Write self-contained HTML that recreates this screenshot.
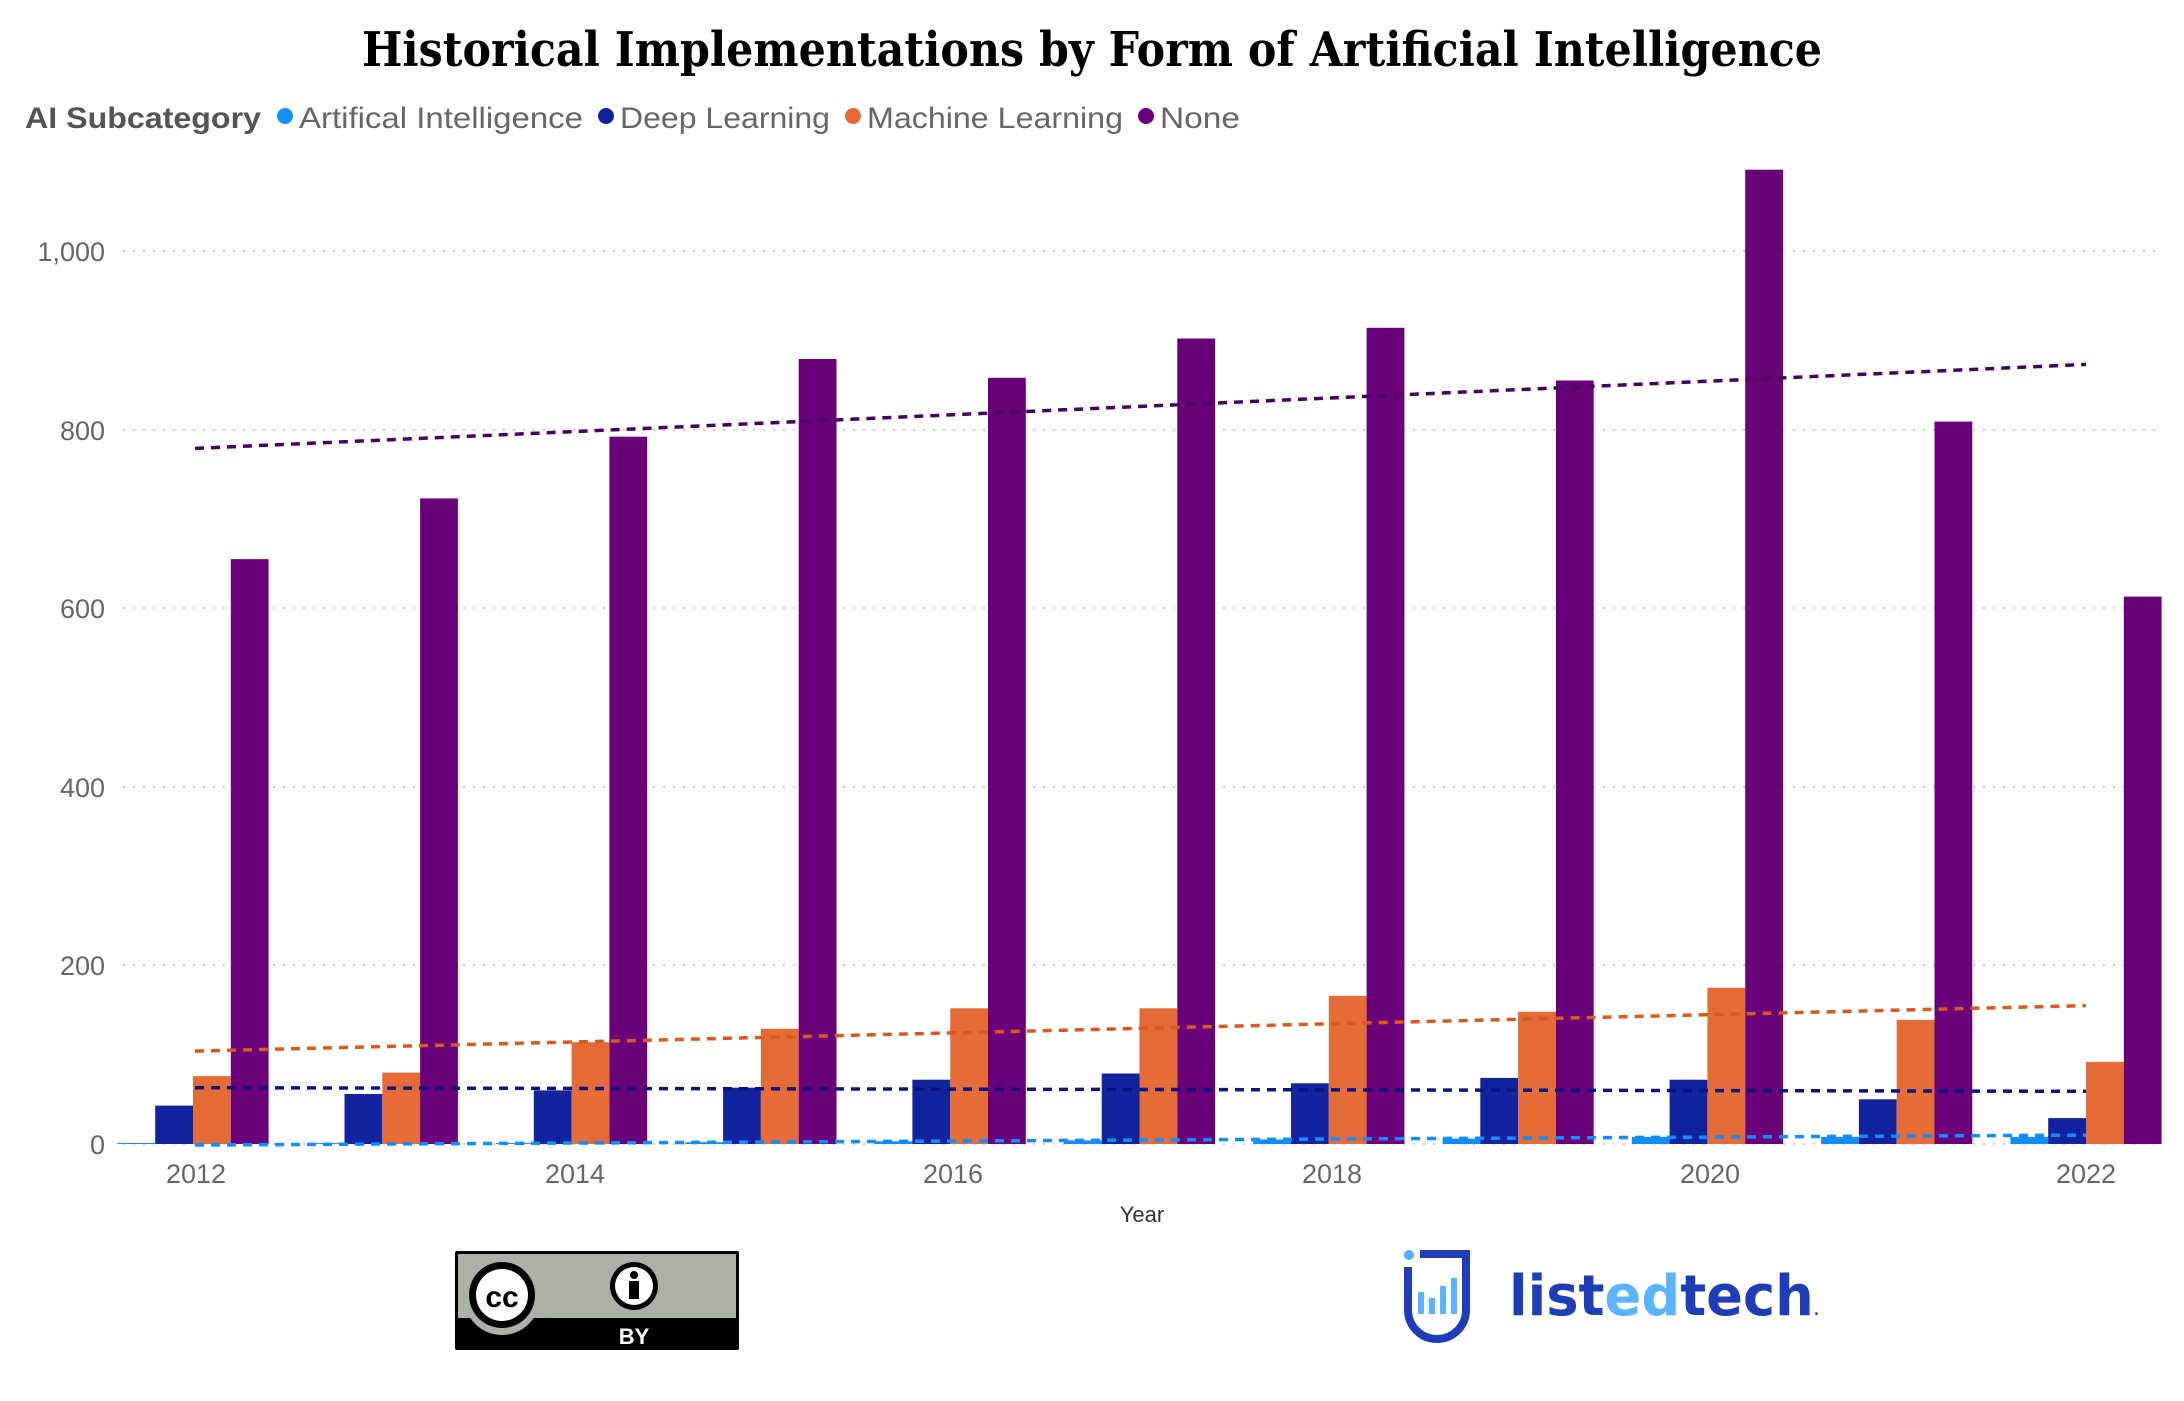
<!DOCTYPE html>
<html><head><meta charset="utf-8"><style>
html,body{margin:0;padding:0;background:#fff;}
svg{display:block;}
</style></head><body>
<svg width="2184" height="1401" viewBox="0 0 2184 1401" xmlns="http://www.w3.org/2000/svg">
<text x="1092" y="66" text-anchor="middle" font-family="'DejaVu Serif','Liberation Serif',serif" font-weight="bold" font-size="48" fill="#000" textLength="1460" lengthAdjust="spacingAndGlyphs">Historical Implementations by Form of Artificial Intelligence</text>
<g font-family="'Liberation Sans',sans-serif" font-size="30" fill="#666">
<text x="25" y="128" font-weight="bold" fill="#555" textLength="236" lengthAdjust="spacingAndGlyphs">AI Subcategory</text>
<circle cx="285" cy="116" r="8" fill="#118DFF"/><text x="299" y="128" textLength="284" lengthAdjust="spacingAndGlyphs">Artifical Intelligence</text>
<circle cx="606" cy="116" r="8" fill="#12239E"/><text x="620" y="128" textLength="210" lengthAdjust="spacingAndGlyphs">Deep Learning</text>
<circle cx="853" cy="116" r="8" fill="#E66C37"/><text x="867" y="128" textLength="256" lengthAdjust="spacingAndGlyphs">Machine Learning</text>
<circle cx="1146" cy="116" r="8" fill="#6B007B"/><text x="1160" y="128" textLength="80" lengthAdjust="spacingAndGlyphs">None</text>
</g>
<g stroke="#ccc" stroke-width="2" stroke-dasharray="2 8">
<line x1="123" y1="251" x2="2163" y2="251"/><line x1="123" y1="430" x2="2163" y2="430"/><line x1="123" y1="608" x2="2163" y2="608"/><line x1="123" y1="787" x2="2163" y2="787"/><line x1="123" y1="965" x2="2163" y2="965"/><line x1="123" y1="1144" x2="2163" y2="1144"/>
</g>
<g font-family="'Liberation Sans',sans-serif" font-size="27" fill="#666" text-anchor="end">
<text x="105" y="261">1,000</text><text x="105" y="440">800</text><text x="105" y="618">600</text><text x="105" y="797">400</text><text x="105" y="975">200</text><text x="105" y="1154">0</text>
</g>
<g>
<g transform="translate(193,0)"><rect x="-75.6" y="1143" width="37.8" height="1" fill="#118DFF"/><rect x="-37.8" y="1105.6" width="37.8" height="38.4" fill="#12239E"/><rect x="0" y="1076.1" width="37.8" height="67.9" fill="#E66C37"/><rect x="37.8" y="559.1" width="37.8" height="584.9" fill="#6B007B"/></g>
<g transform="translate(382.3,0)"><rect x="-75.6" y="1143.1" width="37.8" height="0.9" fill="#118DFF"/><rect x="-37.8" y="1094" width="37.8" height="50" fill="#12239E"/><rect x="0" y="1072.6" width="37.8" height="71.4" fill="#E66C37"/><rect x="37.8" y="498.4" width="37.8" height="645.6" fill="#6B007B"/></g>
<g transform="translate(571.6,0)"><rect x="-75.6" y="1143.1" width="37.8" height="0.9" fill="#118DFF"/><rect x="-37.8" y="1090.4" width="37.8" height="53.6" fill="#12239E"/><rect x="0" y="1042.2" width="37.8" height="101.8" fill="#E66C37"/><rect x="37.8" y="436.7" width="37.8" height="707.3" fill="#6B007B"/></g>
<g transform="translate(760.9,0)"><rect x="-75.6" y="1142.2" width="37.8" height="1.8" fill="#118DFF"/><rect x="-37.8" y="1087.7" width="37.8" height="56.3" fill="#12239E"/><rect x="0" y="1028.8" width="37.8" height="115.2" fill="#E66C37"/><rect x="37.8" y="359" width="37.8" height="785" fill="#6B007B"/></g>
<g transform="translate(950.2,0)"><rect x="-75.6" y="1141.3" width="37.8" height="2.7" fill="#118DFF"/><rect x="-37.8" y="1079.7" width="37.8" height="64.3" fill="#12239E"/><rect x="0" y="1008.3" width="37.8" height="135.7" fill="#E66C37"/><rect x="37.8" y="377.8" width="37.8" height="766.2" fill="#6B007B"/></g>
<g transform="translate(1139.5,0)"><rect x="-75.6" y="1140.4" width="37.8" height="3.6" fill="#118DFF"/><rect x="-37.8" y="1073.5" width="37.8" height="70.5" fill="#12239E"/><rect x="0" y="1008.3" width="37.8" height="135.7" fill="#E66C37"/><rect x="37.8" y="338.5" width="37.8" height="805.5" fill="#6B007B"/></g>
<g transform="translate(1328.8,0)"><rect x="-75.6" y="1139.5" width="37.8" height="4.5" fill="#118DFF"/><rect x="-37.8" y="1083.3" width="37.8" height="60.7" fill="#12239E"/><rect x="0" y="995.8" width="37.8" height="148.2" fill="#E66C37"/><rect x="37.8" y="327.8" width="37.8" height="816.2" fill="#6B007B"/></g>
<g transform="translate(1518.1,0)"><rect x="-75.6" y="1138.6" width="37.8" height="5.4" fill="#118DFF"/><rect x="-37.8" y="1077.9" width="37.8" height="66.1" fill="#12239E"/><rect x="0" y="1011.8" width="37.8" height="132.2" fill="#E66C37"/><rect x="37.8" y="380.5" width="37.8" height="763.5" fill="#6B007B"/></g>
<g transform="translate(1707.4,0)"><rect x="-75.6" y="1136.9" width="37.8" height="7.1" fill="#118DFF"/><rect x="-37.8" y="1079.7" width="37.8" height="64.3" fill="#12239E"/><rect x="0" y="987.7" width="37.8" height="156.3" fill="#E66C37"/><rect x="37.8" y="169.7" width="37.8" height="974.3" fill="#6B007B"/></g>
<g transform="translate(1896.7,0)"><rect x="-75.6" y="1136.9" width="37.8" height="7.1" fill="#118DFF"/><rect x="-37.8" y="1099.3" width="37.8" height="44.7" fill="#12239E"/><rect x="0" y="1019.9" width="37.8" height="124.1" fill="#E66C37"/><rect x="37.8" y="421.6" width="37.8" height="722.4" fill="#6B007B"/></g>
<g transform="translate(2086,0)"><rect x="-75.6" y="1136.9" width="37.8" height="7.1" fill="#118DFF"/><rect x="-37.8" y="1118.1" width="37.8" height="25.9" fill="#12239E"/><rect x="0" y="1061.8" width="37.8" height="82.2" fill="#E66C37"/><rect x="37.8" y="596.6" width="37.8" height="547.4" fill="#6B007B"/></g>
</g>
<g stroke-width="3.5" stroke-dasharray="9 7" fill="none">
<line x1="195" y1="448.4" x2="2086" y2="364.4" stroke="#4a0060"/>
<line x1="195" y1="1051.1" x2="2086" y2="1005.6" stroke="#d95a1c"/>
<line x1="195" y1="1087.7" x2="2086" y2="1091.3" stroke="#0a1580"/>
<line x1="195" y1="1145" x2="2086" y2="1135.1" stroke="#118DFF"/>
</g>
<g font-family="'Liberation Sans',sans-serif" font-size="27" fill="#666" text-anchor="middle">
<text x="196" y="1183">2012</text><text x="575" y="1183">2014</text><text x="953" y="1183">2016</text><text x="1332" y="1183">2018</text><text x="1710" y="1183">2020</text><text x="2086" y="1183">2022</text>
<text x="1142" y="1222" font-size="22" fill="#333">Year</text>
</g>
<g>
<rect x="455" y="1251" width="284" height="99" fill="#000" rx="2"/>
<rect x="458" y="1254" width="278" height="64" fill="#aab2a8"/>
<circle cx="502" cy="1297" r="38" fill="#aab2a8"/>
<circle cx="502" cy="1295" r="33" fill="#000"/><circle cx="502" cy="1295" r="26" fill="#fff"/>
<text x="502" y="1307" text-anchor="middle" font-family="'Liberation Sans',sans-serif" font-weight="bold" font-size="30" fill="#000">cc</text>
<circle cx="634" cy="1286" r="24" fill="#000"/><circle cx="634" cy="1286" r="19" fill="#fff"/>
<circle cx="634" cy="1275" r="4" fill="#000"/><rect x="629" y="1281" width="10" height="18" fill="#000"/>
<text x="634" y="1344" text-anchor="middle" font-family="'Liberation Sans',sans-serif" font-weight="bold" font-size="22" fill="#fff">BY</text>
</g>
<g>
<circle cx="1409" cy="1255" r="5" fill="#4ab0ff"/>
<path d="M1408 1267 V1310 a29 29 0 0 0 58 0 V1254 H1420" fill="none" stroke="#1f3db8" stroke-width="8"/>
<rect x="1418" y="1292" width="6" height="22" fill="#5ab4ff"/><rect x="1429" y="1298" width="6" height="16" fill="#5ab4ff"/><rect x="1440" y="1286" width="6" height="28" fill="#5ab4ff"/><rect x="1451" y="1278" width="6" height="36" fill="#5ab4ff"/>
<text x="1509" y="1315" font-family="'DejaVu Sans','Liberation Sans',sans-serif" font-weight="bold" font-size="56" fill="#1f3db8" textLength="310" lengthAdjust="spacingAndGlyphs">list<tspan fill="#5ab4ff">ed</tspan>tech<tspan font-size="14">.</tspan></text>
</g>
</svg>
</body></html>
